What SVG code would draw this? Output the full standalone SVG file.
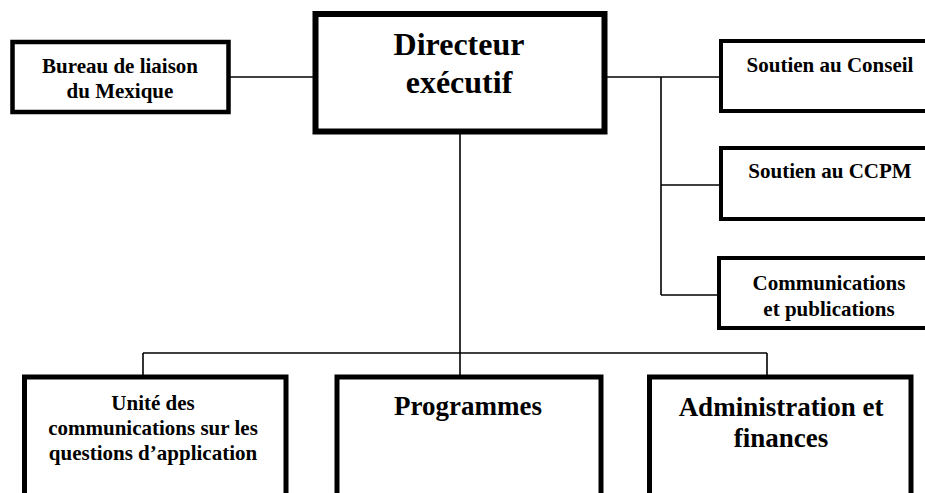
<svg xmlns="http://www.w3.org/2000/svg" width="925" height="493" viewBox="0 0 925 493">
<style>
.box{fill:#fff;stroke:#000}
.t{font-family:"Liberation Serif","Times New Roman",serif;font-weight:bold;fill:#000;text-anchor:middle}
.s{font-size:21px}
.m{font-size:27px}
.l{font-size:32px}
.c{stroke:#000;stroke-width:1.6;fill:none}
</style>
<rect width="925" height="493" fill="#fff"/>
<g id="connectors">
<line class="c" x1="228" y1="77" x2="316" y2="77"/>
<line class="c" x1="604" y1="77" x2="721" y2="77"/>
<line class="c" x1="661" y1="77" x2="661" y2="295"/>
<line class="c" x1="661" y1="185" x2="721" y2="185"/>
<line class="c" x1="661" y1="295" x2="719" y2="295"/>
<line class="c" x1="460" y1="132" x2="460" y2="377"/>
<line class="c" x1="143" y1="353" x2="767" y2="353"/>
<line class="c" x1="143" y1="353" x2="143" y2="377"/>
<line class="c" x1="767" y1="353" x2="767" y2="377"/>
</g>
<g id="bureau">
<rect class="box" x="12.5" y="42" width="216" height="70" stroke-width="4.5"/>
<text class="t s" x="120" y="73">Bureau de liaison</text>
<text class="t s" x="120" y="98">du Mexique</text>
</g>
<g id="directeur">
<rect class="box" x="315.5" y="14" width="289" height="117.5" stroke-width="6"/>
<text class="t l" x="459" y="55">Directeur</text>
<text class="t l" x="459" y="93">exécutif</text>
</g>
<g id="conseil">
<rect class="box" x="721" y="41" width="220" height="70" stroke-width="4"/>
<text class="t s" x="830" y="72">Soutien au Conseil</text>
</g>
<g id="ccpm">
<rect class="box" x="721" y="148" width="220" height="71" stroke-width="4"/>
<text class="t s" x="830" y="178">Soutien au CCPM</text>
</g>
<g id="communications">
<rect class="box" x="719" y="258" width="222" height="70" stroke-width="4"/>
<text class="t s" x="829" y="290">Communications</text>
<text class="t s" x="829" y="316">et publications</text>
</g>
<g id="unite">
<rect class="box" x="24.5" y="377" width="261.5" height="130" stroke-width="5"/>
<text class="t s" x="153" y="410">Unité des</text>
<text class="t s" x="153" y="435">communications sur les</text>
<text class="t s" x="153" y="460">questions d’application</text>
</g>
<g id="programmes">
<rect class="box" x="337" y="377" width="264" height="130" stroke-width="5"/>
<text class="t m" x="468" y="415">Programmes</text>
</g>
<g id="administration">
<rect class="box" x="649.5" y="377" width="261.5" height="130" stroke-width="5"/>
<text class="t m" x="781" y="416">Administration et</text>
<text class="t m" x="781" y="447">finances</text>
</g>
</svg>
